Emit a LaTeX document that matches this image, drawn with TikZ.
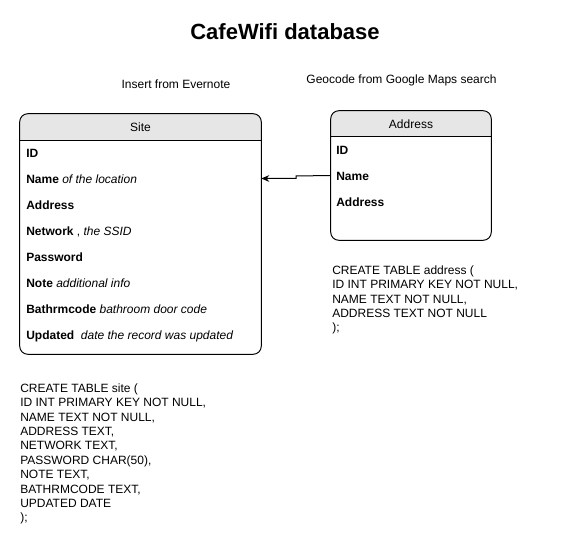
\documentclass[tikz,border=0pt]{standalone}
\usepackage{fontspec}
\setmainfont{Liberation Sans}
\usetikzlibrary{arrows.meta}
\definecolor{hg}{HTML}{E6E6E6}
\begin{document}
\begin{tikzpicture}[x=0.75pt,y=-0.75pt,
  row/.style={anchor=base west, inner sep=0pt, font=\fontsize{9}{11}\selectfont},
  hdr/.style={inner sep=0pt, font=\fontsize{9}{11}\selectfont},
  sql/.style={anchor=base west, inner sep=0pt, align=left, font=\fontsize{9}{10.8}\selectfont},
  note/.style={anchor=base, inner sep=0pt, font=\fontsize{9}{11}\selectfont},
  link/.style={line width=0.75pt, -{Stealth[length=6pt,width=5pt]}}]
\useasboundingbox (0,0) rectangle (561,541);

% title
\node[anchor=base, inner sep=0pt, font=\fontsize{16.5}{20}\selectfont\bfseries] (title) at (285,40) {CafeWifi database};
\node[note] (evernote) at (176,89) {Insert from Evernote};
\node[note] (geocode) at (401.5,83.5) {Geocode from Google Maps search};

% Site table
\node[minimum width=180.75pt, minimum height=180pt, inner sep=0pt] (site) at (140.5,234) {};
\begin{scope}
  \clip[rounded corners=6pt] (site.north west) rectangle (site.south east);
  \fill[hg] (site.north west) rectangle (site.east |- 0,141);
\end{scope}
\draw[line width=0.75pt, rounded corners=6pt] (site.north west) rectangle (site.south east);
\draw[line width=0.75pt] (site.west |- 0,141) -- (site.east |- 0,141);
\node[hdr] (sitehead) at (140.5,127.5) {Site};
\node[row] (s1) at (26,158) {\textbf{ID}};
\node[row] (s2) at (26,184) {\textbf{Name} \textit{of the location}};
\node[row] (s3) at (26,210) {\textbf{Address}};
\node[row] (s4) at (26,236) {\textbf{Network} , \textit{the SSID}};
\node[row] (s5) at (26,262) {\textbf{Password}};
\node[row] (s6) at (26,288) {\textbf{Note} \textit{additional info}};
\node[row] (s7) at (26,314) {\textbf{Bathrmcode} \textit{bathroom door code}};
\node[row] (s8) at (26,340) {\textbf{Updated}\ \ \textit{date the record was updated}};

% Address table
\node[minimum width=120pt, minimum height=96.75pt, inner sep=0pt] (addr) at (411,175.5) {};
\begin{scope}
  \clip[rounded corners=6pt] (addr.north west) rectangle (addr.south east);
  \fill[hg] (addr.north west) rectangle (addr.east |- 0,137);
\end{scope}
\draw[line width=0.75pt, rounded corners=6pt] (addr.north west) rectangle (addr.south east);
\draw[line width=0.75pt] (addr.west |- 0,137) -- (addr.east |- 0,137);
\node[hdr] (addrhead) at (411,124) {Address};
\node[row] (a1) at (336,155) {\textbf{ID}};
\node[row] (a2) at (336,181) {\textbf{Name}};
\node[row] (a3) at (336,207) {\textbf{Address}};

% connector
\coordinate (bend) at (296,176);
\draw[link] (addr.west |- 0,175.5) -- (bend) -- ++(0,2.5) -- (site.east |- 0,178.5);

% SQL (base anchor = baseline of the last line)
\node[sql] (sqlsite) at (20,522) {CREATE TABLE site (\\ID INT PRIMARY KEY NOT NULL,\\NAME TEXT NOT NULL,\\ADDRESS TEXT,\\NETWORK TEXT,\\PASSWORD CHAR(50),\\NOTE TEXT,\\BATHRMCODE TEXT,\\UPDATED DATE\\);};
\node[sql] (sqladdr) at (332,332) {CREATE TABLE address (\\ID INT PRIMARY KEY NOT NULL,\\NAME TEXT NOT NULL,\\ADDRESS TEXT NOT NULL\\);};
\end{tikzpicture}
\end{document}
